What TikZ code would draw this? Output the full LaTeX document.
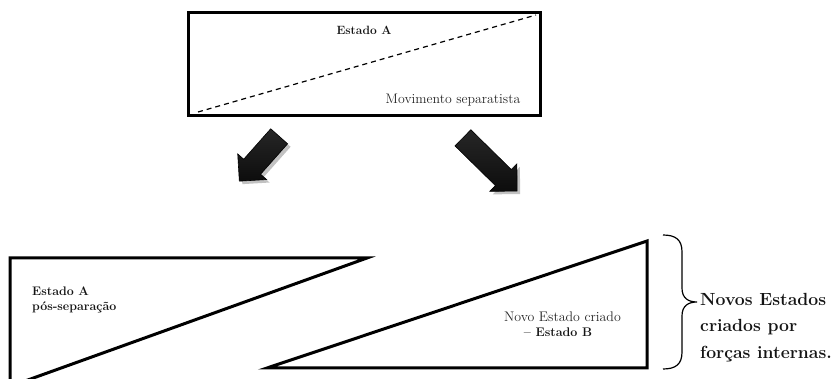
\documentclass[tikz,border=0pt]{standalone}
\usetikzlibrary{shapes.arrows,shadows}
\tikzset{
    moldura/.style={draw=black, line width=3pt, line join=miter},
    seta/.style={single arrow, draw=black, line width=0.6pt, inner sep=11pt,
        single arrow head extend=8pt, shading=axis, top color=black!85,
        middle color=black!40, bottom color=black!95,
        drop shadow={shadow xshift=3pt, shadow yshift=-3pt, fill=black!40, opacity=0.6}},
    rotulo/.style={inner sep=0pt, text=black!85},
    negrito/.style={inner sep=0pt, text=black!92, font=\bfseries}
}
\begin{document}
\begin{tikzpicture}[x=1pt, y=-1pt]
        \useasboundingbox (0,0) rectangle (839,379);
        % Estado A antes da separacao
        \node[moldura, minimum width=352pt, minimum height=103pt] (estadoA) at (364,64.5) {};
        \draw[line width=1.2pt, dash pattern=on 5pt off 4pt] (198,112) -- (536,15);
        \node[negrito, anchor=base, font=\bfseries\fontsize{12}{14}\selectfont] (nomeA) at (364,35) {Estado A};
        \node[rotulo, anchor=base, font=\fontsize{13.8}{16}\selectfont] (movimento) at (453,104) {Movimento separatista};
        % setas
        \foreach \nome/\cx/\cy/\ang/\len in {setaA/263/154.5/228.4/60, setaB/486/160.5/-44.5/76} {
            \node[seta, rotate=\ang, minimum height=\len pt] (\nome) at (\cx,\cy) {};
        }
        % Estado A pos-separacao
        \draw[moldura] (0,390) -- (367,258) -- (10,258) -- (10,390);
        \node[negrito, anchor=north west, align=left, font=\bfseries\fontsize{12.4}{14.5}\selectfont] (posA) at (32,287) {Estado A\\p\'os-separa\c{c}\~ao};
        % Estado B
        \draw[moldura] (267,368) -- (647,241) -- (647,368) -- cycle;
        \node[rotulo, anchor=base, font=\fontsize{13.9}{16}\selectfont] (novoEstado) at (562.5,322) {Novo Estado criado};
        \node[negrito, anchor=base, font=\bfseries\fontsize{12.5}{14}\selectfont] (estadoB) at (558,336.7) {-- Estado B};
        % chave
        \coordinate (chaveTopo) at (663,235);
        \coordinate (chavePonta) at (697,302);
        \coordinate (chaveBase) at (663,369);
        \draw[line width=1.2pt] (chaveTopo) .. controls (676,235) and (682,240) .. (682,252) -- (682,288)
            .. controls (682,298) and (688,302) .. (chavePonta)
            .. controls (688,302) and (682,306) .. (682,316) -- (682,352)
            .. controls (682,364) and (676,369) .. (chaveBase);
        \node[negrito, anchor=north west, align=left, font=\bfseries\fontsize{17.6}{26.5}\selectfont] (novos) at (700,292.8) {Novos Estados\\criados por\\for\c{c}as internas.};
\end{tikzpicture}
\end{document}
